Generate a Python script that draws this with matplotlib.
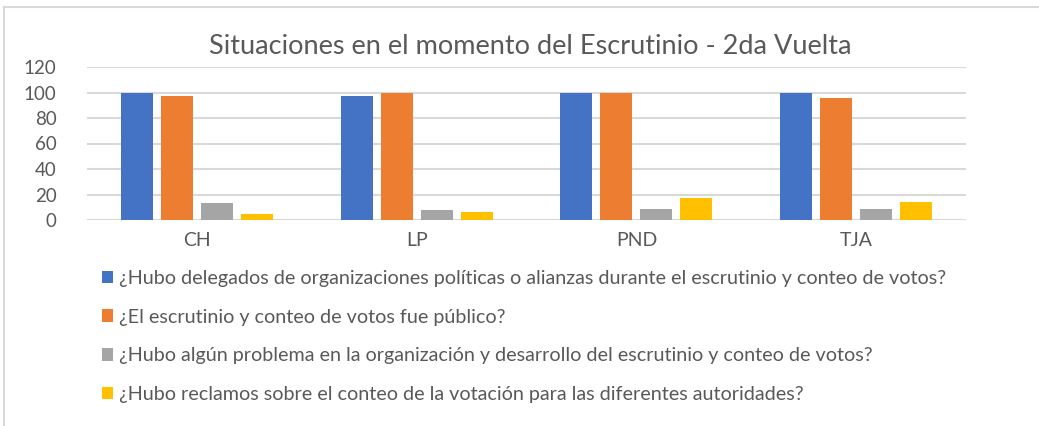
import numpy as np
import matplotlib.pyplot as plt
from matplotlib.lines import Line2D

# Data
categories = ["CH", "LP", "PND", "TJA"]
series_labels = [
    "¿Hubo delegados de organizaciones políticas o alianzas durante el escrutinio y conteo de votos?",
    "¿El escrutinio y conteo de votos fue público?",
    "¿Hubo algún problema en la organización y desarrollo del escrutinio y conteo de votos?",
    "¿Hubo reclamos sobre el conteo de la votación para las diferentes autoridades?",
]
delegados = [100, 97, 100, 100]
publico = [97, 100, 100, 96]
problema = [13, 8, 9, 9]
reclamos = [5, 6, 17, 14]

colors = ["#4472C4", "#ED7D31", "#A5A5A5", "#FFC000"]
text_color = "#595959"

plt.rcParams['font.family'] = ['Lato', 'DejaVu Sans']

fig = plt.figure(figsize=(10.39, 4.26), dpi=100)
ax = fig.add_axes([87 / 1039, 1 - 220 / 426, (966 - 87) / 1039, (220 - 67) / 426])

x = np.arange(len(categories))
step = 0.182
width = 0.146
handles = []
for i, vals in enumerate([delegados, publico, problema, reclamos]):
    b = ax.bar(x + (i - 1.5) * step, vals, width, color=colors[i], zorder=3,
               label=series_labels[i])
    handles.append(b)

ax.set_xlim(-0.5, len(categories) - 0.5)
ax.set_ylim(0, 120)
ax.set_yticks(range(0, 121, 20))
ax.set_xticks(x)
ax.set_xticklabels(categories)
ax.grid(axis='y', color='#d9d9d9', linewidth=1.5, zorder=0)
for s in ax.spines.values():
    s.set_visible(False)
ax.tick_params(axis='both', length=0, colors=text_color, labelsize=13.5)
ax.tick_params(axis='x', labelsize=14)
ax.tick_params(axis='y', pad=22)
ax.tick_params(axis='x', pad=9)

fig.text(530 / 1039, 1 - 46 / 426, "Situaciones en el momento del Escrutinio - 2da Vuelta",
         ha='center', va='center', fontsize=19.5, color=text_color)

leg = fig.legend(handles=handles, labels=series_labels, loc='upper left',
                 bbox_to_anchor=(94 / 1039, 1 - 262 / 426), frameon=False,
                 fontsize=14.2, labelspacing=1.1, handlelength=0.55,
                 handleheight=0.6, handletextpad=0.3, borderaxespad=0)
for t in leg.get_texts():
    t.set_color(text_color)

# outer chart frame (top and left edges visible)
fig.add_artist(Line2D([3.5 / 1039, 3.5 / 1039], [0, 1 - 7 / 426], color='#d9d9d9', lw=1.5))
fig.add_artist(Line2D([3.5 / 1039, 1], [1 - 7 / 426, 1 - 7 / 426], color='#d9d9d9', lw=1.5))

fig.savefig("out.png", dpi=100, facecolor='white')
